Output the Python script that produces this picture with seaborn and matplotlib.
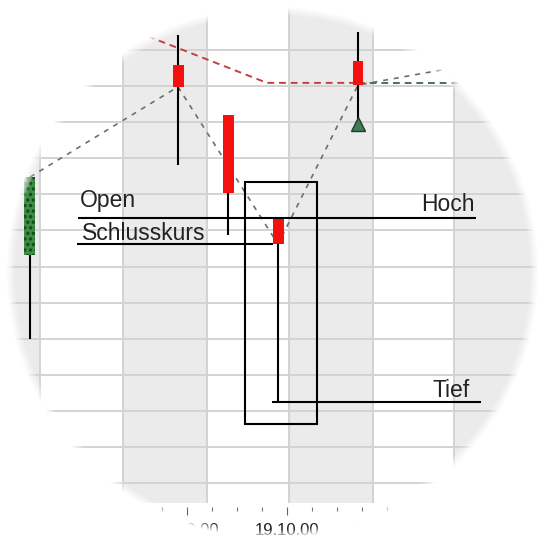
import numpy as np
import matplotlib.pyplot as plt
import seaborn as sns
from matplotlib.patches import Rectangle

# x in chart steps (one minor tick = 1), y in price units (one grid row = 1)
candle_x = [-5.28, 0.64, 2.64, 4.64, 7.84]
candle_open = [6.32, 11.59, 10.20, 7.34, 11.70]
candle_close = [8.48, 10.98, 8.04, 6.62, 11.03]
candle_high = [8.48, 12.42, 10.20, 7.34, 12.50]
candle_low = [3.99, 8.81, 6.87, 2.25, 10.06]

# close line skips the third candle in the source chart
close_x = [-5.28, 0.64, 4.64, 7.84, 11.84]
close_y = [8.48, 10.98, 6.62, 11.03, 11.53]

stop_red_x = [-1.0, 4.20, 7.84]
stop_red_y = [12.50, 11.09, 11.09]
stop_green_x = [7.84, 15.0]
stop_green_y = [11.09, 11.09]

signal_x = [7.84]
signal_y = [9.96]

grid_x = [-4.88, -1.56, 1.80, 5.08, 8.44, 11.68]
grid_y = list(range(0, 13))

tick_minor = list(range(0, 10))
tick_major = [1, 5, 9]
tick_labels = ["12.10.00", "19.10.00", "26.10.00"]

box_x = [3.32, 6.20]
box_y = [1.64, 8.34]

# annotation lines: (y, x from, x to)
open_line = (7.34, -3.36, 12.56)
close_line = (6.62, -3.40, 4.45)
low_line = (2.25, 4.40, 12.76)

labels = ["Open", "Schlusskurs", "Hoch", "Tief"]
label_x = [-3.28, -3.20, 10.36, 10.80]
label_y = [7.65, 6.73, 7.54, 2.38]

sns.set_theme(style="white")
plt.rcParams['font.family'] = ['Liberation Sans', 'DejaVu Sans']
plt.rcParams['hatch.linewidth'] = 1.6

fig = plt.figure(figsize=(5.38, 5.38), dpi=100)
ax = fig.add_axes([0, 31 / 538, 1, 507 / 538])
ax.set_xlim(-6.48, 15.04)
ax.set_ylim(-0.665, 13.387)
for s in ax.spines.values():
    s.set_visible(False)
ax.set_facecolor("white")

plot_bottom = -0.554
plot_top = 14
xmin, xmax = ax.get_xlim()

# alternating shaded columns
band_edges = [xmin] + grid_x + [xmax]
for i in range(0, len(band_edges) - 1, 2):
    ax.fill_between([band_edges[i], band_edges[i + 1]], plot_bottom, plot_top,
                    color="#ebebeb", lw=0, zorder=0)

ax.vlines(grid_x, plot_bottom, plot_top, color="#d3d3d3", lw=1.4, zorder=1)
ax.hlines(grid_y, xmin, xmax, color="#d3d3d3", lw=1.4, zorder=1)

# dashed lines
sns.lineplot(x=close_x, y=close_y, sort=False, ax=ax, color="#6e6e6e", lw=1.2,
             linestyle=(0, (3, 3.5)), zorder=2)
sns.lineplot(x=stop_red_x, y=stop_red_y, sort=False, ax=ax, color="#c44040", lw=1.4,
             linestyle=(0, (3.5, 2.5)), zorder=2)
sns.lineplot(x=stop_green_x, y=stop_green_y, sort=False, ax=ax, color="#50705a", lw=1.4,
             linestyle=(0, (3.5, 2.5)), zorder=2)

# candles
ax.vlines(candle_x, candle_low, candle_high, color="black", lw=1.5, zorder=3)
for x, o, c in zip(candle_x, candle_open, candle_close):
    up = c > o
    ax.bar(x, abs(c - o), bottom=min(o, c), width=0.44,
           color="#3d8d45" if up else "#f51010",
           edgecolor="#16451c" if up else "#f51010",
           hatch="..." if up else None, lw=0, zorder=4)
ax.plot(signal_x, signal_y, marker="^", ms=10, color="#3f7f57",
        markeredgecolor="#1d3d28", lw=0, zorder=4)

# annotation box and lines
ax.add_patch(Rectangle((box_x[0], box_y[0]), box_x[1] - box_x[0], box_y[1] - box_y[0],
                       fill=False, edgecolor="black", lw=1.5, zorder=5))
for yv, x0, x1 in [open_line, close_line, low_line]:
    ax.hlines(yv, x0, x1, color="black", lw=1.5, zorder=5)
for t, x, y in zip(labels, label_x, label_y):
    ax.text(x, y, t, fontsize=16.5, color="#222222", ha="left", va="baseline", zorder=6)

# x ticks
ax.set_yticks([])
ax.set_xticks(tick_major)
ax.set_xticklabels(tick_labels, fontsize=12, color="#222222")
ax.set_xticks(tick_minor, minor=True)
ax.tick_params(axis="x", which="major", bottom=True, length=5.8, width=0.8,
               color="#666666", pad=6, direction="out")
ax.tick_params(axis="x", which="minor", bottom=True, length=3, width=0.8,
               color="#777777", direction="out")

# round lens mask with soft white edge
h = w = 538
yy, xx = np.mgrid[0:h, 0:w]
r = np.hypot(xx - 272, yy - 272)
R, fade = 266, 9
alpha = np.clip((r - (R - fade)) / fade, 0, 1)
rgba = np.ones((h, w, 4))
rgba[..., 3] = alpha
mask_ax = fig.add_axes([0, 0, 1, 1], zorder=10)
mask_ax.imshow(rgba, extent=(0, w, h, 0), interpolation="bilinear")
mask_ax.set_axis_off()

fig.savefig("out.png", dpi=100)
